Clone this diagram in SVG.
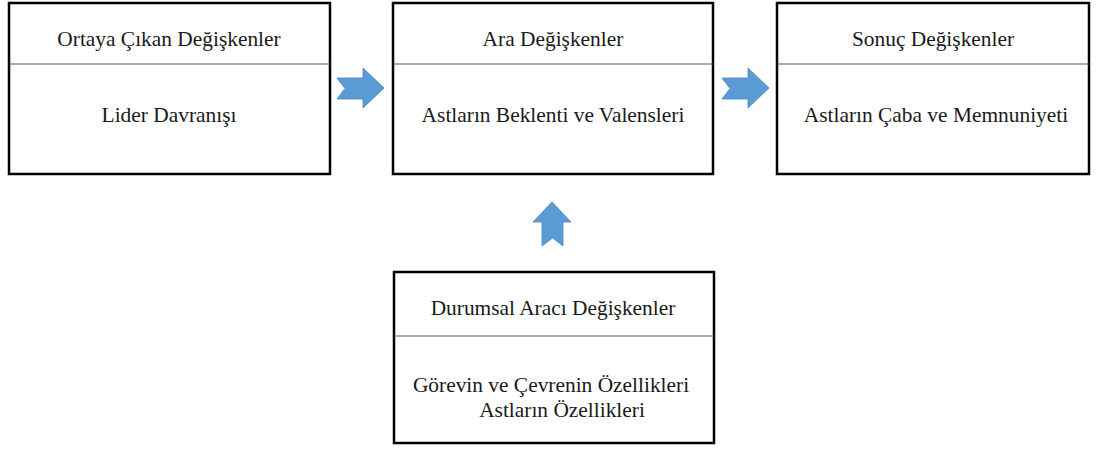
<svg xmlns="http://www.w3.org/2000/svg" width="1097" height="450" viewBox="0 0 1097 450">
  <style>
    .box { fill: #ffffff; stroke: #000000; stroke-width: 2.5; }
    .rule { stroke: #5a5a5a; stroke-width: 1.2; }
    .lbl { font-family: "Liberation Serif", "Times New Roman", serif; font-size: 21.4px; fill: #1a1a1a; text-anchor: middle; }
    .arrow { fill: #5b9bd5; stroke: #4a86c0; stroke-width: 0.8; }
  </style>
  <rect width="1097" height="450" fill="#ffffff"/>

  <g id="ortaya">
    <rect class="box" x="9" y="3" width="321" height="171"/>
    <line class="rule" x1="9" y1="64" x2="330" y2="64"/>
    <text class="lbl" x="169" y="46">Ortaya Çıkan Değişkenler</text>
    <text class="lbl" x="169" y="122">Lider Davranışı</text>
  </g>

  <g id="ara">
    <rect class="box" x="393" y="3" width="320" height="171"/>
    <line class="rule" x1="393" y1="64" x2="713" y2="64"/>
    <text class="lbl" x="553" y="46">Ara Değişkenler</text>
    <text class="lbl" x="553" y="122">Astların Beklenti ve Valensleri</text>
  </g>

  <g id="sonuc">
    <rect class="box" x="777" y="3" width="312" height="171"/>
    <line class="rule" x1="777" y1="64" x2="1089" y2="64"/>
    <text class="lbl" x="933" y="46">Sonuç Değişkenler</text>
    <text class="lbl" x="936" y="122">Astların Çaba ve Memnuniyeti</text>
  </g>

  <g id="durumsal">
    <rect class="box" x="394" y="272" width="320" height="171"/>
    <line class="rule" x1="394" y1="336" x2="714" y2="336"/>
    <text class="lbl" x="553" y="315">Durumsal Aracı Değişkenler</text>
    <text class="lbl" x="551" y="392">Görevin ve Çevrenin Özellikleri</text>
    <text class="lbl" x="562" y="417">Astların Özellikleri</text>
  </g>

  <g id="connectors">
    <!-- right-pointing notched arrows between the top boxes -->
    <polygon class="arrow" points="337,78 363,78 363,68 384,88 363,108 363,99 337,99 345,88.5"/>
    <polygon class="arrow" points="722,78 748,78 748,68 769,88 748,108 748,99 722,99 730,88.5"/>
    <!-- upward notched arrow from the lower box -->
    <polygon class="arrow" points="542,246 542,222 533,222 552,202 571,222 563,222 563,246 552.5,238"/>
  </g>
</svg>
